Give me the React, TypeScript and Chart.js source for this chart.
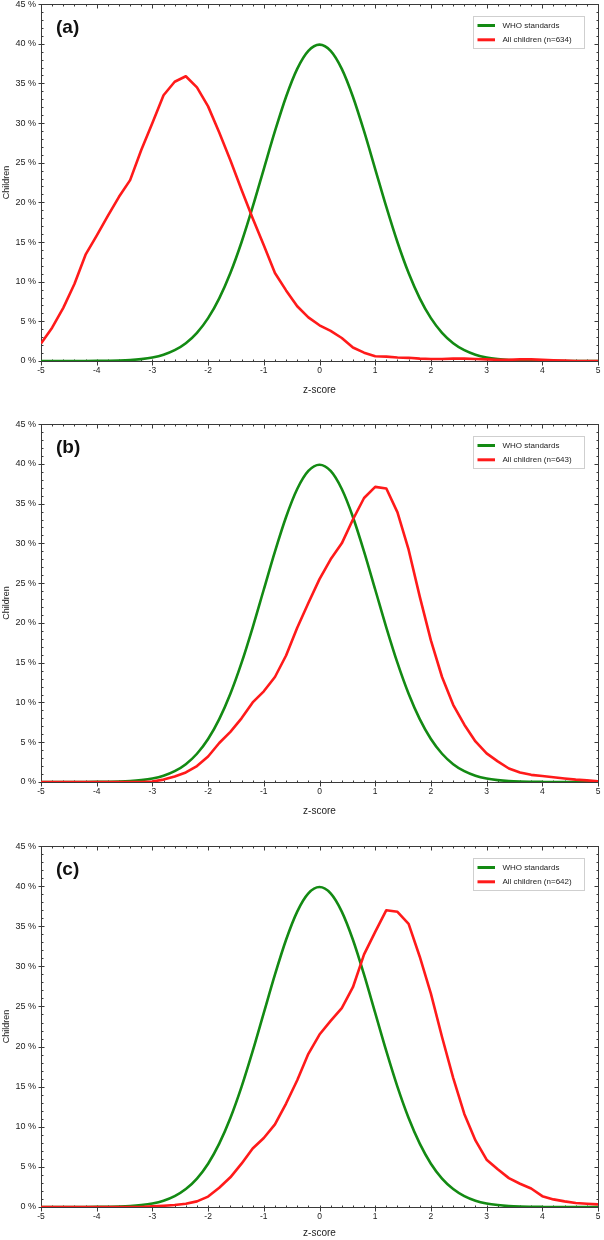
import { useEffect, useRef } from "react";
import {
  Chart,
  LineController,
  LineElement,
  PointElement,
  LinearScale,
} from "chart.js";

Chart.register(LineController, LineElement, PointElement, LinearScale);

// z-score grid shared by all curves
const zScores = [
  -5, -4.8, -4.6, -4.4, -4.2, -4, -3.8, -3.6, -3.4, -3.2,
  -3, -2.8, -2.6, -2.4, -2.2, -2, -1.8, -1.6, -1.4, -1.2,
  -1, -0.8, -0.6, -0.4, -0.2, 0, 0.2, 0.4, 0.6, 0.8,
  1, 1.2, 1.4, 1.6, 1.8, 2, 2.2, 2.4, 2.6, 2.8,
  3, 3.2, 3.4, 3.6, 3.8, 4, 4.2, 4.4, 4.6, 4.8, 5,
];

const whoStandards = [
  0, 0, 0, 0, 0, 0.01, 0.03, 0.06, 0.12, 0.24,
  0.44, 0.79, 1.36, 2.24, 3.55, 5.4, 7.9, 11.09, 14.97, 19.42,
  24.2, 28.97, 33.32, 36.83, 39.1, 39.89, 39.1, 36.83, 33.32, 28.97,
  24.2, 19.42, 14.97, 11.09, 7.9, 5.4, 3.55, 2.24, 1.36, 0.79,
  0.44, 0.24, 0.12, 0.06, 0.03, 0.01, 0, 0, 0, 0, 0,
];

const childrenA = [
  2.2, 4.2, 6.7, 9.7, 13.4, 15.8, 18.3, 20.7, 22.8, 26.6,
  30.0, 33.5, 35.2, 35.9, 34.5, 32.1, 28.8, 25.3, 21.6, 18.0,
  14.6, 11.1, 8.9, 6.9, 5.5, 4.5, 3.8, 2.9, 1.7, 1.05,
  0.6, 0.55, 0.45, 0.4, 0.3, 0.25, 0.25, 0.3, 0.3, 0.25,
  0.2, 0.15, 0.15, 0.2, 0.2, 0.15, 0.1, 0.05, 0, 0, 0,
];

const childrenB = [
  0, 0, 0, 0, 0, 0, 0, 0, 0, 0,
  0.05, 0.3, 0.7, 1.2, 2.0, 3.2, 4.9, 6.3, 8.0, 10.0,
  11.4, 13.2, 15.9, 19.4, 22.5, 25.5, 28.0, 30.0, 33.0, 35.7,
  37.1, 36.9, 33.9, 29.2, 23.3, 17.8, 13.2, 9.7, 7.2, 5.1,
  3.6, 2.6, 1.7, 1.2, 0.9, 0.75, 0.6, 0.45, 0.3, 0.2, 0.1,
];

const childrenC = [
  0, 0, 0, 0, 0, 0, 0, 0, 0, 0,
  0.08, 0.15, 0.25, 0.4, 0.7, 1.3, 2.4, 3.7, 5.4, 7.3,
  8.6, 10.3, 12.9, 15.8, 19.1, 21.5, 23.2, 24.8, 27.4, 31.5,
  34.3, 37.0, 36.8, 35.3, 31.2, 26.6, 21.2, 16.1, 11.6, 8.3,
  5.9, 4.7, 3.6, 2.9, 2.3, 1.35, 0.95, 0.7, 0.5, 0.4, 0.33,
];

const xTicks = [-5, -4, -3, -2, -1, 0, 1, 2, 3, 4, 5];
const yTicks = [0, 5, 10, 15, 20, 25, 30, 35, 40, 45];

const panelTags = ["(a)", "(b)", "(c)"];
const sampleSizes = [634, 643, 642];

const GREEN = "#138a13";
const RED = "#ff1a1a";
const AXIS = "#3a3a3a";
const FONT = "'Liberation Sans', Arial, sans-serif";

const crisp = (v: number) => Math.round(v) + 0.5;

const framePlugin = {
  id: "frameTicks",
  beforeDatasetsDraw(chart: any) {
    const { ctx, chartArea: a, scales } = chart;
    const sx = scales.x;
    const sy = scales.y;
    const L = crisp(a.left);
    const R = crisp(a.right);
    const T = crisp(a.top);
    const B = crisp(a.bottom);
    ctx.save();
    ctx.strokeStyle = AXIS;
    ctx.lineWidth = 1;
    ctx.strokeRect(L, T, R - L, B - T);
    ctx.beginPath();
    // minor ticks every 0.2 on x, every 1 % on y
    for (let i = 0; i <= 50; i++) {
      const px = crisp(sx.getPixelForValue(-5 + i * 0.2));
      const major = i % 5 === 0;
      ctx.moveTo(px, B + (major ? 4 : 0));
      ctx.lineTo(px, B - 2);
      ctx.moveTo(px, T);
      ctx.lineTo(px, T + (major ? 4 : 2));
    }
    for (let i = 0; i <= 45; i++) {
      const py = crisp(sy.getPixelForValue(i));
      const major = i % 5 === 0;
      ctx.moveTo(L - (major ? 3 : 0), py);
      ctx.lineTo(L + (major ? 3 : 2), py);
      ctx.moveTo(R, py);
      ctx.lineTo(R - (major ? 4 : 2), py);
    }
    ctx.stroke();
    ctx.restore();
  },
  afterDraw(chart: any, _args: any, opts: any) {
    const { ctx, chartArea: a } = chart;
    ctx.save();
    // panel tag
    ctx.fillStyle = "#111";
    ctx.font = `bold 19px ${FONT}`;
    ctx.textBaseline = "middle";
    ctx.textAlign = "left";
    ctx.fillText(opts.tag, a.left + 15, a.top + 24);
    // legend box
    const w = 111;
    const h = 32;
    const bx = Math.round(a.right - 14 - w) + 0.5;
    const by = Math.round(a.top + 12) + 0.5;
    ctx.fillStyle = "#fff";
    ctx.fillRect(bx, by, w, h);
    ctx.strokeStyle = "#cfcfcf";
    ctx.lineWidth = 1;
    ctx.strokeRect(bx, by, w, h);
    const entries = opts.entries as { label: string; color: string }[];
    ctx.font = `8px ${FONT}`;
    entries.forEach((e, i) => {
      const ly = by + 9 + i * 14.3;
      ctx.strokeStyle = e.color;
      ctx.lineWidth = 3;
      ctx.beginPath();
      ctx.moveTo(bx + 4, ly);
      ctx.lineTo(bx + 21.5, ly);
      ctx.stroke();
      ctx.fillStyle = "#222";
      ctx.fillText(e.label, bx + 29, ly);
    });
    ctx.restore();
  },
};

interface PanelProps {
  tag: string;
  n: number;
  values: number[];
  top: number;
  height: number;
  axisHeight: number;
  bottomPad: number;
}

function Panel({ tag, n, values, top, height, axisHeight, bottomPad }: PanelProps) {
  const ref = useRef<HTMLCanvasElement | null>(null);

  useEffect(() => {
    if (!ref.current) return;
    const childLabel = `All children (n=${n})`;
    const chart = new Chart(ref.current, {
      type: "line",
      data: {
        datasets: [
          {
            label: "WHO standards",
            data: zScores.map((z, i) => ({ x: z, y: whoStandards[i] })),
            borderColor: GREEN,
            borderWidth: 2.6,
            pointRadius: 0,
            cubicInterpolationMode: "monotone",
            order: 1,
          },
          {
            label: childLabel,
            data: zScores.map((z, i) => ({ x: z, y: values[i] })),
            borderColor: RED,
            borderWidth: 2.6,
            pointRadius: 0,
            tension: 0,
            borderJoinStyle: "round",
            order: 0,
          },
        ],
      },
      options: {
        animation: false,
        responsive: false,
        maintainAspectRatio: false,
        events: [],
        layout: { padding: { top: 0, right: 6, bottom: bottomPad, left: 0 } },
        plugins: {
          legend: { display: false },
          tooltip: { enabled: false },
          frameTicks: {
            tag,
            entries: [
              { label: "WHO standards", color: GREEN },
              { label: childLabel, color: RED },
            ],
          },
        } as any,
        scales: {
          x: {
            type: "linear",
            min: -5,
            max: 5,
            afterBuildTicks: (s: any) => {
              s.ticks = xTicks.map((v) => ({ value: v }));
            },
            afterFit: (s: any) => {
              s.height = axisHeight;
            },
            grid: { display: false, drawTicks: true, tickLength: 5 },
            border: { display: false },
            ticks: {
              padding: 0,
              color: "#222",
              font: { family: FONT, size: 8.5 },
              callback: (v: any) => String(v),
            },
            title: {
              display: true,
              text: "z-score",
              color: "#222",
              font: { family: FONT, size: 10 },
              padding: { top: 0, bottom: 1 },
            },
          },
          y: {
            type: "linear",
            min: 0,
            max: 45,
            afterBuildTicks: (s: any) => {
              s.ticks = yTicks.map((v) => ({ value: v }));
            },
            afterFit: (s: any) => {
              s.width = 41;
            },
            grid: { display: false, drawTicks: true, tickLength: 5 },
            border: { display: false },
            ticks: {
              padding: 0,
              color: "#222",
              font: { family: FONT, size: 9, lineHeight: 0.9 },
              callback: (v: any) => `${v} %`,
            },
            title: {
              display: true,
              text: "Children",
              color: "#222",
              font: { family: FONT, size: 9 },
              padding: { top: 1, bottom: 0 },
            },
          },
        },
      },
      plugins: [framePlugin],
    });
    return () => chart.destroy();
  }, [tag, n, values, axisHeight, bottomPad]);

  return (
    <canvas
      ref={ref}
      width={604}
      height={height}
      style={{ position: "absolute", left: 0, top, width: 604, height }}
    />
  );
}

export default function App() {
  return (
    <div
      style={{
        position: "absolute",
        left: 0,
        top: 0,
        width: 604,
        height: 1240,
        background: "#fff",
        overflow: "hidden",
      }}
    >
      <Panel tag={panelTags[0]} n={sampleSizes[0]} values={childrenA} top={0} height={420} axisHeight={36} bottomPad={23} />
      <Panel tag={panelTags[1]} n={sampleSizes[1]} values={childrenB} top={420} height={422} axisHeight={36} bottomPad={24} />
      <Panel tag={panelTags[2]} n={sampleSizes[2]} values={childrenC} top={842} height={398} axisHeight={33} bottomPad={0} />
    </div>
  );
}
